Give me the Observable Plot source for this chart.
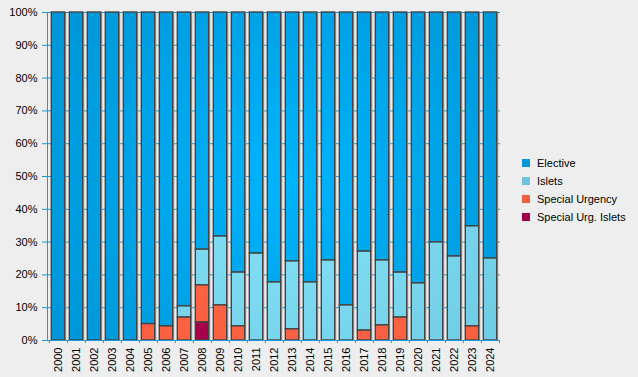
<!DOCTYPE html>
<html>
<head>
<meta charset="utf-8">
<script src="https://cdn.jsdelivr.net/npm/d3@7"></script>
<script src="https://cdn.jsdelivr.net/npm/@observablehq/plot@0.6"></script>
<style>
  html, body { margin: 0; padding: 0; background: #eeeeee; }
  #wrap { position: relative; width: 638px; height: 377px; background: #eeeeee; font-family: "Liberation Sans", Arial, sans-serif; }
  #legend { position: absolute; left: 522px; top: 154px; font-size: 11px; color: #000; }
  #legend .row { display: flex; align-items: center; height: 18px; }
  #legend .sw { width: 8px; height: 8px; margin-right: 7px; }
</style>
</head>
<body>
<div id="wrap"><div id="legend"></div></div>
<script>
const years = ["2000","2001","2002","2003","2004","2005","2006","2007","2008","2009","2010","2011","2012","2013","2014","2015","2016","2017","2018","2019","2020","2021","2022","2023","2024"];
const seriesNames = ["Elective", "Islets", "Special Urgency", "Special Urg. Islets"];
const seriesColors = ["#0a96d6", "#70c3da", "#f25c40", "#a0004c"];
const elective = [100,100,100,100,100,95.0,95.7,89.6,72.3,68.3,79.3,73.5,82.3,75.9,82.3,75.6,89.3,72.9,75.6,79.3,82.6,70.1,74.4,65.2,75.0];
const islets   = [0,0,0,0,0,0,0,3.4,10.9,21.0,16.4,26.5,17.7,20.7,17.7,24.4,10.7,24.1,19.8,13.7,17.4,29.9,25.6,30.5,25.0];
const specialUrgency = [0,0,0,0,0,5.0,4.3,7.0,11.3,10.7,4.3,0,0,3.4,0,0,0,3.0,4.6,7.0,0,0,0,4.3,0];
const specialUrgIslets = [0,0,0,0,0,0,0,0,5.5,0,0,0,0,0,0,0,0,0,0,0,0,0,0,0,0];
const yTicks = [0,10,20,30,40,50,60,70,80,90,100];

const seriesValues = [elective, islets, specialUrgency, specialUrgIslets];
const rows = [];
seriesNames.forEach((s, si) => years.forEach((y, i) => {
  if (seriesValues[si][i] > 0) rows.push({year: y, series: s, value: seriesValues[si][i]});
}));
const stackOrder = ["Special Urg. Islets", "Special Urgency", "Islets", "Elective"];

const W = 638, H = 377, mL = 47, mR = 138, mT = 12, mB = 37;
const step = (W - mL - mR) / years.length;
const axisBlue = "#1a9ad6";

const barFills = {
  "Elective": "url(#gElective)",
  "Islets": "url(#gIslets)",
  "Special Urgency": "url(#gSU)",
  "Special Urg. Islets": "url(#gSUI)"
};

const chart = Plot.plot({
  width: W, height: H,
  marginLeft: mL, marginRight: mR, marginTop: mT, marginBottom: mB,
  style: {background: "transparent", fontFamily: "'Liberation Sans', Arial, sans-serif", fontSize: "11px", color: "#000", overflow: "visible"},
  x: {domain: years, padding: 0, label: null, axis: null},
  y: {domain: [0, 100], label: null, axis: null},
  marks: [
    Plot.gridY(yTicks, {stroke: axisBlue, strokeOpacity: 1}),
    Plot.barY(years, {x: d => d, y1: 0, y2: 100, fill: "#a8a8a8", insetLeft: 2.3, insetRight: 2.3, dx: 1.6, dy: 1}),
    Plot.barY(rows, Plot.stackY({order: stackOrder}, {
      x: "year", y: "value", z: "series",
      fill: d => barFills[d.series],
      stroke: "#444", strokeWidth: 1.4,
      insetLeft: 2.3, insetRight: 2.3
    })),
    Plot.ruleY([0], {stroke: axisBlue, strokeWidth: 1.2}),
    Plot.frame({anchor: "left", stroke: axisBlue}),
    Plot.axisY({ticks: yTicks, tickFormat: d => d + "%", tickSize: 5, tickPadding: 5, stroke: axisBlue, fill: "#000", label: null}),
    Plot.axisX({tickSize: 3, dx: -step / 2, tickFormat: () => "", stroke: axisBlue, label: null}),
    Plot.axisX({ticks: [years[years.length - 1]], tickSize: 3, dx: step / 2, tickFormat: () => "", stroke: axisBlue, label: null}),
    Plot.axisX({tickSize: 0, tickPadding: 7, tickRotate: -90, fill: "#000", label: null})
  ]
});

// gradients
const ns = "http://www.w3.org/2000/svg";
const defs = document.createElementNS(ns, "defs");
defs.innerHTML = `
<radialGradient id="gElective" gradientUnits="userSpaceOnUse" cx="290" cy="180" r="300">
  <stop offset="0" stop-color="#00b4fc"/><stop offset="1" stop-color="#0094d4"/></radialGradient>
<radialGradient id="gIslets" gradientUnits="userSpaceOnUse" cx="290" cy="180" r="300">
  <stop offset="0" stop-color="#86e4fa"/><stop offset="1" stop-color="#6cc8de"/></radialGradient>
<radialGradient id="gSU" gradientUnits="userSpaceOnUse" cx="290" cy="180" r="300">
  <stop offset="0" stop-color="#ff6446"/><stop offset="1" stop-color="#f85e40"/></radialGradient>
<radialGradient id="gSUI" gradientUnits="userSpaceOnUse" cx="290" cy="180" r="300">
  <stop offset="0" stop-color="#b0004e"/><stop offset="1" stop-color="#a0004a"/></radialGradient>`;
chart.insertBefore(defs, chart.firstChild);

document.getElementById("wrap").insertBefore(chart, document.getElementById("legend"));

const legend = document.getElementById("legend");
seriesNames.forEach((s, i) => {
  const r = document.createElement("div");
  r.className = "row";
  r.innerHTML = `<div class="sw" style="background:${seriesColors[i]}"></div><span>${s}</span>`;
  legend.appendChild(r);
});
</script>
</body>
</html>
